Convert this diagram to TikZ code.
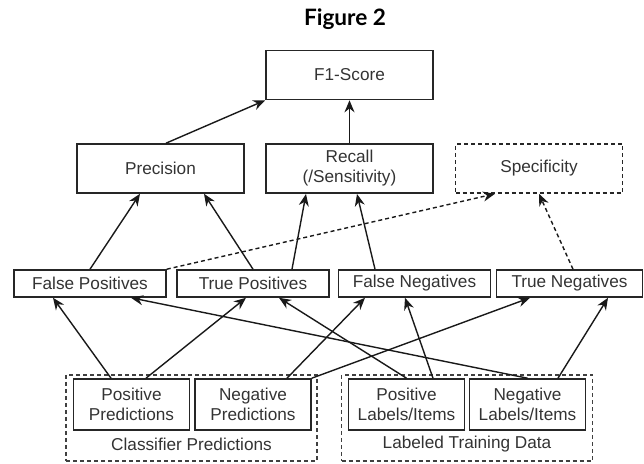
\documentclass[tikz,border=0pt]{standalone}
\usepackage{fontspec}
\setmainfont{Liberation Sans}
\newfontfamily\titlefont{Lato}
\usetikzlibrary{arrows.meta}

\begin{document}
\begin{tikzpicture} [x=0.5pt, y=-0.5pt,
				metric/.style={
				% The shape:
				rectangle,
				% The size:
      				minimum width=83.5pt, minimum height=24.5pt,
				% The border:
     				 draw=black!85, line width=0.8pt,
				% Font
				font=\fontsize{8.6}{10}\selectfont, text=black!80
    				},
				unknown/.style={
				metric,
				% The border:
				dashed, dash pattern=on 2pt off 1.5pt
    				},
				count/.style={
				% The shape:
				rectangle,
				% The size:
      				minimum width=76pt, minimum height=13.5pt, inner sep=1pt,
				% The border:
     				 draw=black!85, line width=0.8pt,
				% Font
				font=\fontsize{8.6}{10}\selectfont, text=black!80
    				},
				source/.style={
				% The shape:
				rectangle,
				% The size:
      				minimum width=58pt, minimum height=25.5pt, inner sep=1pt,
				% The border:
     				 draw=black!85, line width=0.8pt,
				% Font
				font=\fontsize{8.6}{10}\selectfont, text=black!80
    				},
				group/.style={
				% The shape:
				rectangle,
				% The size:
      				minimum width=125.5pt, minimum height=43pt,
				% The border:
     				 draw=black!75, line width=0.75pt, dash pattern=on 2pt off 1.5pt
    				},
				grouplabel/.style={
				inner sep=0pt, font=\fontsize{8.6}{10}\selectfont, text=black!80
    				},
				link/.style={-{Stealth[length=6pt, width=5pt]}, line width=0.7pt, black!90},
				guess/.style={link, dash pattern=on 2pt off 1.5pt},
				]
    \useasboundingbox (0,0) rectangle (644,464);
    \node [align=center] (title) at (345,19) {\titlefont\bfseries\fontsize{11.3}{13}\selectfont Figure 2};

    % scores
    \node [metric] (f1) at (349.5,75) {F1-Score};
    \node [metric] (prec) at (160.5,168.5) {Precision};
    \node [metric, align=center] (rec) at (349.5,168.5) {Recall\\(/Sensitivity)};
    \node [unknown] (spec) at (539,168.5) {Specificity};

    % counts
    \node [count] (fp) at (90,283.5) {False Positives};
    \node [count] (tp) at (253,283.5) {True Positives};
    \node [count] (fn) at (414.5,283.5) {False Negatives};
    \node [count, minimum width=73pt] (tn) at (569.5,283.5) {True Negatives};

    % inputs
    \node [group] (clf) at (191.5,418) {};
    \node [group] (lab) at (467,418) {};
    \node [grouplabel] (clflabel) at (191.5,444) {Classifier Predictions};
    \node [grouplabel] (lablabel) at (467,444) {Labeled Training Data};
    \node [source, align=center] (pp) at (131.5,404.5) {Positive\\Predictions};
    \node [source, align=center] (np) at (253,404.5) {Negative\\Predictions};
    \node [source, align=center] (pl) at (406.5,404.5) {Positive\\Labels/Items};
    \node [source, align=center] (nl) at (527.5,404.5) {Negative\\Labels/Items};

    % top arrows
    \draw [link] ([xshift=2.75pt]prec.north) -- (f1.south west);
    \draw [link] (rec.north) -- (f1.south);
    \draw [link] (fp.north) -- ([xshift=-10.25pt]prec.south);
    \draw [link] (tp.north) -- ([xshift=21.75pt]prec.south);
    \draw [link] ([xshift=19.5pt]tp.north) -- ([xshift=-21.75pt]rec.south);
    \draw [link] ([xshift=-19.75pt]fn.north) -- ([xshift=3.75pt]rec.south);
    \draw [guess] (fp.north east) -- ([xshift=-22pt]spec.south);
    \draw [guess] ([xshift=1.75pt]tn.north) -- (spec.south);

    % bottom arrows
    \draw [link] ([xshift=-10.25pt]pp.north) -- ([xshift=-18.5pt]fp.south);
    \draw [link] ([xshift=7.25pt]pp.north) -- ([xshift=-3.5pt]tp.south);
    \draw [link] ([xshift=17pt]np.north) -- ([xshift=-24.75pt]fn.south);
    \draw [link] (np.north east) -- ([xshift=-19.75pt]tn.south);
    \draw [link] (pl.north) -- ([xshift=13pt]tp.south);
    \draw [link] ([xshift=13.25pt]pl.north) -- ([xshift=-4.75pt]fn.south);
    \draw [link] (nl.north) -- ([xshift=20.5pt]fp.south);
    \draw [link] ([xshift=15.25pt]nl.north) -- ([xshift=19.25pt]tn.south);
\end{tikzpicture}
\end{document}
